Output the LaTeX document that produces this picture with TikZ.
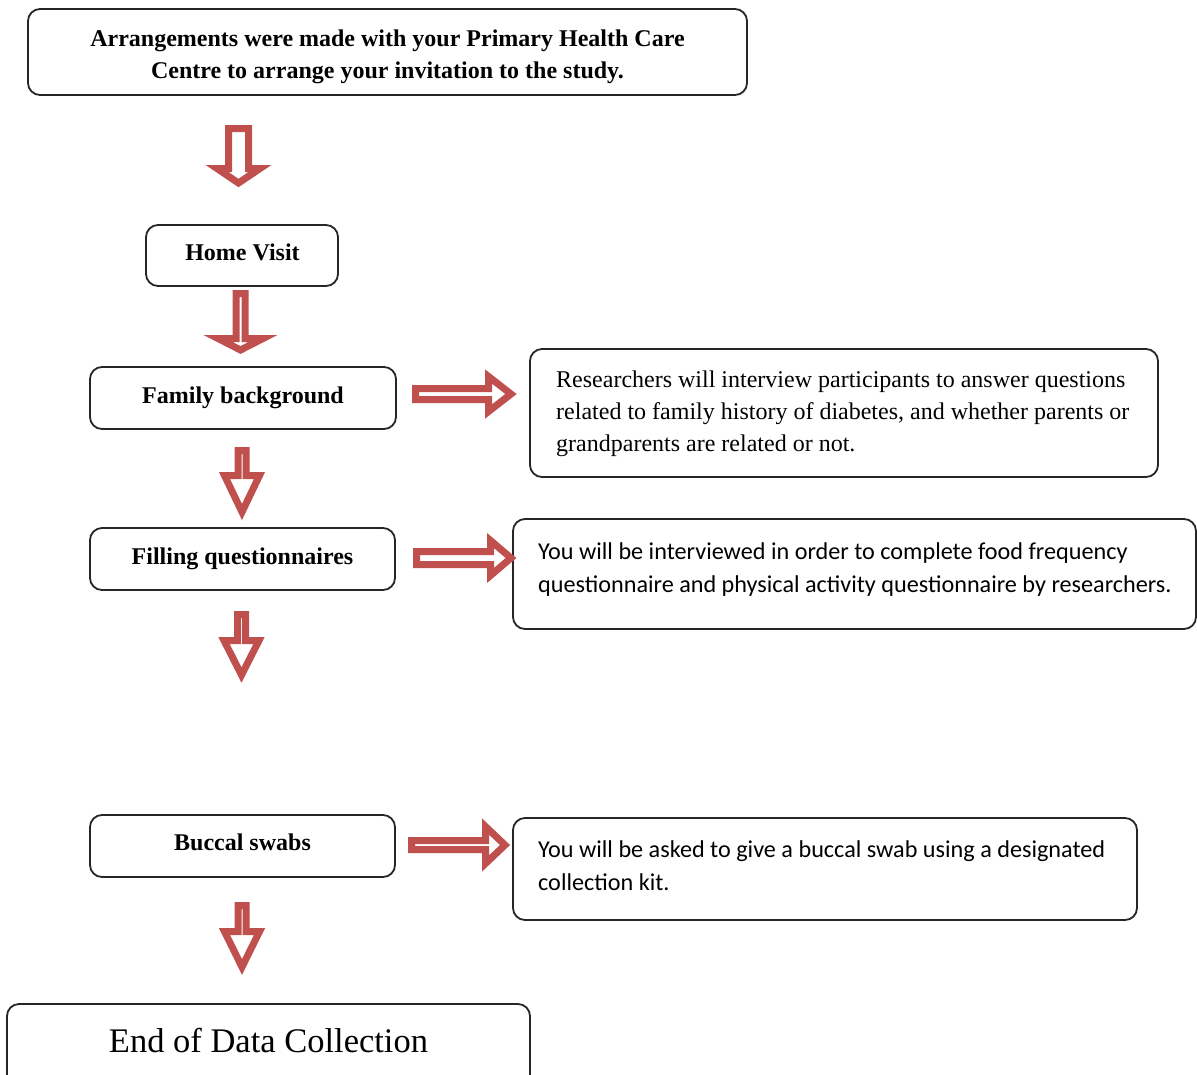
\documentclass[tikz,border=0pt]{standalone}
\usepackage{fontspec}
\setmainfont{Liberation Serif}
\newfontfamily\calibrifont{Carlito}
\definecolor{arrowred}{HTML}{C0504D}
\definecolor{boxline}{HTML}{262626}

% block arrow pointing down: centre x, top y, head y, tip y, shaft half width, head half width
\newcommand\DownBlock[6]{%
  \draw[blockarrow] (#1-#5,#2) -- (#1+#5,#2) -- (#1+#5,#3) -- (#1+#6,#3)
    -- (#1,#4) -- (#1-#6,#3) -- (#1-#5,#3) -- cycle;}
% block arrow pointing right: centre y, left x, head x, tip x, shaft half width, head half width
\newcommand\RightBlock[6]{%
  \draw[blockarrow] (#2,#1-#5) -- (#3,#1-#5) -- (#3,#1-#6) -- (#4,#1)
    -- (#3,#1+#6) -- (#3,#1+#5) -- (#2,#1+#5) -- cycle;}

\tikzset{
  framebox/.style={draw=boxline, line width=1.8pt, rounded corners=12pt, inner sep=0pt},
  stagelabel/.style={inner sep=0pt, align=center,
    font=\fontsize{24}{32}\selectfont\bfseries},
  serifnote/.style={anchor=west, align=left, inner sep=0pt,
    font=\fontsize{24}{32}\selectfont},
  sansnote/.style={anchor=west, align=left, inner sep=0pt,
    font=\calibrifont\fontsize{24.2}{33}\selectfont},
  blockarrow/.style={draw=arrowred, fill=white, line width=7pt, line join=miter},
}

\begin{document}
\begin{tikzpicture}[x=1pt, y=-1pt]
\clip (0,0) rectangle (1197,1074);
\fill[white] (0,0) rectangle (1197,1074);

% main sequence of stages
\node[framebox, minimum width=719, minimum height=86] (invite) at (387.5,52) {};
\node[stagelabel] (invitetext) at (387.5,57)
  {Arrangements were made with your Primary Health Care\\Centre to arrange your invitation to the study.};
\node[framebox, minimum width=192, minimum height=61] (home) at (242,255.5) {};
\node[stagelabel] (hometext) at (242.5,252.5) {Home Visit};
\node[framebox, minimum width=306, minimum height=62] (family) at (243,398) {};
\node[stagelabel] (familytext) at (243,398) {Family background};
\node[framebox, minimum width=305, minimum height=62] (quest) at (242.5,559) {};
\node[stagelabel] (questtext) at (242.5,559) {Filling questionnaires};
\node[framebox, minimum width=305, minimum height=62] (swab) at (242.5,846) {};
\node[stagelabel] (swabtext) at (242.5,842) {Buccal swabs};
\node[framebox, minimum width=523, minimum height=84] (finish) at (268.5,1046) {};
\node[stagelabel, font=\fontsize{34.5}{40}\selectfont] (finishtext) at (268.5,1041)
  {End of Data Collection};

% explanatory boxes on the right
\node[framebox, minimum width=628, minimum height=128] (famnote) at (844,413) {};
\node[serifnote] (famnotetext) at (556,414)
  {Researchers will interview participants to answer questions\\
   related to family history of diabetes, and whether parents or\\
   grandparents are related or not.};

\node[framebox, minimum width=683, minimum height=110] (qnote) at (854.5,574) {};
\node[sansnote] (qnotetext) at (538,569.5)
  {You will be interviewed in order to complete food frequency\\
   questionnaire and physical activity questionnaire by researchers.};

\node[framebox, minimum width=624, minimum height=102] (swabnote) at (825,869) {};
\node[sansnote] (swabnotetext) at (538,865.5)
  {You will be asked to give a buccal swab using a designated\\
   collection kit.};

% downward block arrows between stages
\DownBlock{238.5}{128.5}{168.5}{183}{10}{21.5}
\DownBlock{240.5}{293.5}{338.5}{350}{4.5}{22.5}
\DownBlock{242}{450.5}{475.5}{512}{4}{17.5}
\DownBlock{241.5}{614.5}{640.5}{675}{4}{17.5}
\DownBlock{242}{905.5}{931.5}{967}{4}{17.5}

% rightward block arrows to the explanations
\RightBlock{394}{415.5}{488.5}{511}{5.5}{17.5}
\RightBlock{558}{416.5}{490.5}{511}{6.5}{17.5}
\RightBlock{845}{411.5}{485.5}{505}{4.5}{18.5}
\end{tikzpicture}
\end{document}
